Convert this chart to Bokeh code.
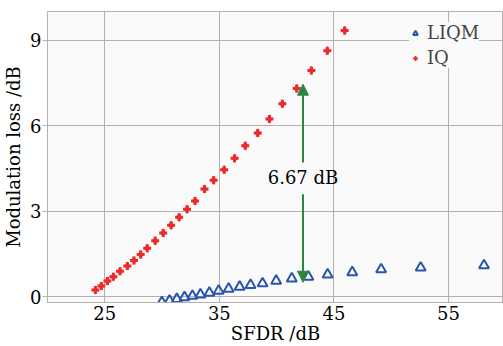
from bokeh.plotting import figure
from bokeh.models import (FixedTicker, Range1d, Arrow, NormalHead, Label,
                          Legend, LegendItem)
from bokeh.embed import file_html
from bokeh.resources import INLINE

# ---- data ----
iq_x = [24.18, 24.70, 25.23, 25.75, 26.33, 26.97, 27.55, 28.13, 28.70, 29.40,
        30.10, 30.79, 31.49, 32.18, 32.88, 33.70, 34.50, 35.42, 36.33, 37.26,
        38.35, 39.37, 40.50, 41.75, 43.03, 44.42, 45.94]
iq_y = [0.23, 0.37, 0.54, 0.69, 0.89, 1.07, 1.26, 1.47, 1.69, 1.96,
        2.23, 2.50, 2.78, 3.06, 3.35, 3.77, 4.08, 4.45, 4.85, 5.29,
        5.74, 6.23, 6.76, 7.30, 7.93, 8.62, 9.33]

liqm_x = [29.98, 30.65, 31.29, 31.96, 32.65, 33.35, 34.13, 34.94, 35.81, 36.77,
          37.72, 38.77, 39.96, 41.32, 42.77, 44.45, 46.60, 49.12, 52.57, 58.10]
liqm_y = [-0.20, -0.15, -0.09, -0.03, 0.02, 0.07, 0.13, 0.20, 0.27, 0.34,
          0.40, 0.46, 0.55, 0.63, 0.69, 0.77, 0.85, 0.95, 1.01, 1.09]

x_ticks = [25, 35, 45, 55]
y_ticks = [0, 3, 6, 9]

annot_x = 42.3
annot_text = "6.67 dB"
annot_text_y = 4.18
arrow_up = (4.70, 7.45)
arrow_down = (3.59, 0.50)

FONT = "DejaVu Serif"
GRID = "#b4b0b0"
GREEN = "#2e8540"
RED = "#ee2b2b"
BLUE = "#2b55aa"

p = figure(width=503, height=346, output_backend="svg", toolbar_location=None,
           x_range=Range1d(20, 59.8), y_range=Range1d(-0.21, 10),
           min_border_top=11, min_border_right=0, min_border_left=45,
           min_border_bottom=44)

p.background_fill_color = "#fafafa"
p.border_fill_color = "white"
p.outline_line_color = GRID
p.outline_line_width = 1

p.xaxis.ticker = FixedTicker(ticks=x_ticks)
p.yaxis.ticker = FixedTicker(ticks=y_ticks)
p.xgrid.ticker = FixedTicker(ticks=x_ticks)
p.ygrid.ticker = FixedTicker(ticks=y_ticks)
p.grid.grid_line_color = GRID
p.grid.grid_line_width = 1

for ax in (p.xaxis, p.yaxis):
    ax.axis_line_color = GRID
    ax.major_tick_line_color = GRID
    ax.minor_tick_line_color = None
    ax.major_label_text_font = FONT
    ax.major_label_text_font_size = "18px"
    ax.major_label_text_color = "black"
    ax.axis_label_text_font = FONT
    ax.axis_label_text_font_size = "18px"
    ax.axis_label_text_font_style = "normal"
    ax.axis_label_text_color = "black"

p.xaxis.major_tick_out = 0
p.xaxis.major_tick_in = 0
p.yaxis.major_tick_out = 5
p.yaxis.major_tick_in = 0
p.xaxis.major_label_standoff = 3
p.yaxis.major_label_standoff = 1
p.xaxis.axis_label_standoff = 0
p.yaxis.axis_label_standoff = 3
p.xaxis.axis_label = "SFDR /dB"
p.yaxis.axis_label = "Modulation loss /dB"

r_liqm = p.scatter(liqm_x, liqm_y, marker="triangle", size=10,
                   fill_color=None, line_color=BLUE, line_width=2)
r_iq1 = p.scatter(iq_x, iq_y, marker="diamond", size=9,
                  fill_color=RED, line_color=None)
r_iq2 = p.scatter(iq_x, iq_y, marker="plus", size=8,
                  fill_color=RED, line_color=None)

head_kw = dict(size=11, fill_color=GREEN, line_color=GREEN)
p.add_layout(Arrow(end=NormalHead(**head_kw), x_start=annot_x, y_start=arrow_up[0],
                   x_end=annot_x, y_end=arrow_up[1], line_color=GREEN, line_width=2))
p.add_layout(Arrow(end=NormalHead(**head_kw), x_start=annot_x, y_start=arrow_down[0],
                   x_end=annot_x, y_end=arrow_down[1], line_color=GREEN, line_width=2))
p.add_layout(Label(x=annot_x, y=annot_text_y, text=annot_text, text_align="center",
                   text_baseline="middle", text_font=FONT, text_font_size="18px",
                   text_color="black"))

legend = Legend(items=[LegendItem(label="LIQM", renderers=[r_liqm]),
                       LegendItem(label="IQ", renderers=[r_iq1, r_iq2])],
                location=(362, 234))
legend.label_text_font = FONT
legend.label_text_font_size = "18px"
legend.background_fill_color = "#fafafa"
legend.background_fill_alpha = 1
legend.border_line_color = None
legend.glyph_width = 12
legend.glyph_height = 18
legend.label_standoff = 6
legend.spacing = 4
legend.padding = 10
legend.margin = 0
legend.label_height = 18
p.add_layout(legend)

open("out.html", "w").write(file_html(p, INLINE))
